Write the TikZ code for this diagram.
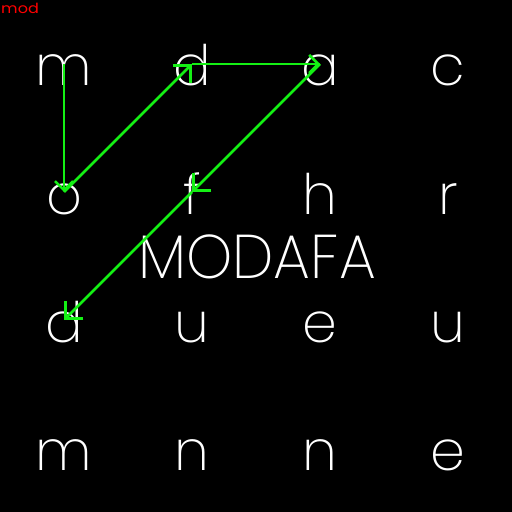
\documentclass[tikz,border=0pt]{standalone}
\usepackage{fontspec}
\newfontfamily\hfont{Poppins ExtraLight}
\newfontfamily\rfont{Poppins}
\usetikzlibrary{arrows.meta}
\definecolor{lime}{RGB}{20,240,20}
\definecolor{redtxt}{RGB}{255,0,0}
\begin{document}
\begin{tikzpicture}[x=1bp,y=-1bp,
  cell/.style={anchor=base,text=white,inner sep=0pt,font=\hfont\fontsize{56}{56}\selectfont},
  title/.style={anchor=base,text=white,inner sep=0pt,font=\hfont\fontsize{62}{62}\selectfont,xscale=0.95},
  tag/.style={anchor=base west,text=redtxt,inner sep=0pt,font=\rfont\fontsize{14}{14}\selectfont,xscale=1.15},
  link/.style={draw=lime,line width=2.6bp},
  tipS/.style={-{Straight Barb[length=9bp,width=18bp,line width=2.6bp]}},
  tipL/.style={-{Straight Barb[length=12.8bp,width=25.6bp,line width=2.6bp]}}]
\fill[black] (0,0) rectangle (512,512);
\useasboundingbox (0,0) rectangle (512,512);
% grid centres
\foreach \i in {0,1,2,3}{\foreach \j in {0,1,2,3}{
  \coordinate (c\i\j) at ({64+128*\i},{64+128*\j});}}
% letters
\node[cell] (l00) at (64,86) {m};
\node[cell] (l10) at (192,86) {d};
\node[cell] (l20) at (320,86) {a};
\node[cell] (l30) at (448,86) {c};
\node[cell] (l01) at (64,214) {o};
\node[cell] (l11) at (192,214) {f};
\node[cell] (l21) at (320,214) {h};
\node[cell] (l31) at (448,214) {r};
\node[cell] (l02) at (64,342) {d};
\node[cell] (l12) at (192,342) {u};
\node[cell] (l22) at (320,342) {e};
\node[cell] (l32) at (448,342) {u};
\node[cell] (l03) at (64,470) {m};
\node[cell] (l13) at (192,470) {n};
\node[cell] (l23) at (320,470) {n};
\node[cell] (l33) at (448,470) {e};
\node[title] (word) at (257,278) {MODAFA};
\node[tag] (lbl) at (1,14) {mod};
% path
\draw[link,tipS] (c00) -- (c01);
\draw[link,tipL] (c01) -- (c10);
\draw[link,tipS] (c10) -- (c20);
\draw[link,tipL] (c20) -- (c11);
\draw[link,tipL] (c11) -- (c02);
\end{tikzpicture}
\end{document}
